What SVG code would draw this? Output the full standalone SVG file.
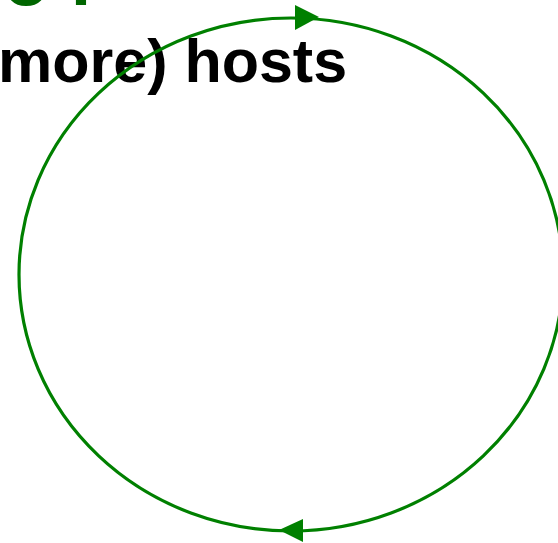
<svg xmlns="http://www.w3.org/2000/svg" width="558" height="543" viewBox="0 0 558 543">
  <style>
    .title { font-family: "Liberation Sans", Arial, sans-serif; font-weight: bold; fill: #006600; }
    .sub { font-family: "Liberation Sans", Arial, sans-serif; font-weight: bold; fill: #000000; }
    .loop { fill: none; stroke: #008000; stroke-width: 3.2; }
    .head { fill: #008000; stroke: none; }
  </style>
  <rect width="558" height="543" fill="#ffffff"/>
  <g id="title">
    <text class="title" x="3" y="5" font-size="76">o</text>
    <text class="title" x="69" y="5" font-size="72">:</text>
  </g>
  <g id="subtitle">
    <text class="sub" x="-2" y="82" font-size="61">more) hosts</text>
  </g>
  <g id="connectors">
    <ellipse class="loop" cx="291" cy="274.5" rx="272" ry="256.5"/>
    <polygon class="head" points="295,5 295,30 319,17"/>
    <polygon class="head" points="303,519 303,542 279,530"/>
  </g>
</svg>
